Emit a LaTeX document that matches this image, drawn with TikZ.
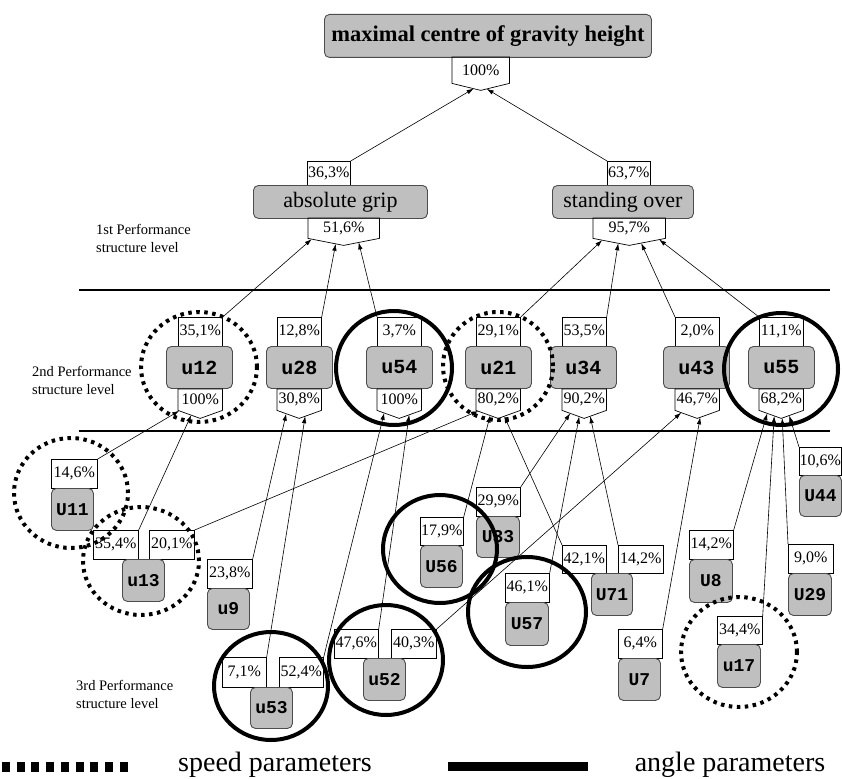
\documentclass[tikz,border=0pt]{standalone}
\usepackage{fontspec}
\setmainfont{Liberation Serif}
\newfontfamily\monofam{Liberation Mono}
\usetikzlibrary{arrows.meta,calc}
\pgfdeclarelayer{bg}
\pgfsetlayers{bg,main}
\tikzset{
 pct/.style={draw, line width=0.7pt, fill=white, inner sep=0pt, anchor=north west, font=\fontsize{16}{16}\selectfont},
 pctn/.style={draw=none, inner sep=0pt, anchor=north west, font=\fontsize{16}{16}\selectfont},
 ubox/.style={draw=black!70, fill=black!25, rounded corners=5pt, line width=0.9pt, inner sep=0pt, anchor=north west},
 utwo/.style={ubox, font=\monofam\bfseries\fontsize{20}{20}\selectfont},
 uthree/.style={ubox, font=\monofam\bfseries\fontsize{18}{18}\selectfont},
 conn/.style={line width=0.6pt, -{Latex[length=7pt,width=4.5pt]}},
 speedc/.style={line width=4pt, dash pattern=on 3.5pt off 4.5pt},
 anglec/.style={line width=4pt},
 sepline/.style={line width=1.5pt},
 lvl/.style={anchor=west, inner sep=0pt, font=\fontsize{14.5}{18}\selectfont, align=left}
}
\newcommand\mkbox[7]{\node[#6, minimum width={(#4-#2)*1pt}, minimum height={(#5-#3)*1pt}] (#1) at (#2,#3) {#7};}
\newcommand\mkpent[7]{\node[pctn, minimum width={(#4-#2)*1pt}, minimum height={(#5-#3)*1pt}] (#1) at (#2,#3) {#7};
 \draw[line width=0.7pt] (#1.north west) -- (#1.south west) -- ([yshift=-#6pt]#1.south) -- (#1.south east) -- (#1.north east) -- cycle;}
\begin{document}
\begin{tikzpicture}[x=1pt,y=-1pt]
\useasboundingbox (0,0) rectangle (842,778);
% level 0 and 1
\mkbox{top}{324}{14}{651}{57}{ubox, font=\bfseries\fontsize{22.5}{24}\selectfont}{maximal centre of gravity height}
\mkpent{p0}{452}{57}{509}{83}{7}{100\%}
\mkbox{l36}{307}{161}{350}{186}{pct}{36,3\%}
\mkbox{ag}{253}{185}{427}{218}{ubox, font=\fontsize{22}{24}\selectfont}{absolute grip}
\mkpent{p1}{308}{218}{379}{238}{7}{51,6\%}
\mkbox{l63}{607}{161}{650}{186}{pct}{63,7\%}
\mkbox{so}{552}{185}{693}{218}{ubox, font=\fontsize{22}{24}\selectfont}{standing over}
\mkpent{p2}{593}{218}{665}{238}{7}{95,7\%}
% separators
\draw[sepline] (79,290) -- (830,290);
\draw[sepline] (79,431) -- (830,431);
% level labels
\node[lvl] (t1) at (96,238) {1st Performance\\structure level};
\node[lvl] (t2) at (32,380) {2nd Performance\\structure level};
\node[lvl] (t3) at (76,694) {3rd Performance\\structure level};
% level 2
\mkbox{a12}{178}{317}{222}{346}{pct}{35,1\%}
\mkbox{u12}{166}{346}{232}{388}{utwo}{u12}
\mkpent{b12}{178}{389}{222}{410}{8}{100\%}
\mkbox{a28}{277}{317}{321}{346}{pct}{12,8\%}
\mkbox{u28}{266}{346}{332}{388}{utwo}{u28}
\mkpent{b28}{277}{389}{321}{410}{8}{30,8\%}
\mkbox{a54}{377}{317}{421}{346}{pct}{3,7\%}
\mkbox{u54}{366}{346}{432}{388}{utwo}{u54}
\mkpent{b54}{377}{389}{421}{410}{8}{100\%}
\mkbox{a21}{476}{317}{520}{346}{pct}{29,1\%}
\mkbox{u21}{465}{346}{531}{388}{utwo}{u21}
\mkpent{b21}{476}{389}{520}{410}{8}{80,2\%}
\mkbox{a34}{562}{317}{606}{346}{pct}{53,5\%}
\mkbox{u34}{550}{346}{616}{388}{utwo}{u34}
\mkpent{b34}{562}{389}{606}{410}{8}{90,2\%}
\mkbox{a43}{675}{317}{719}{346}{pct}{2,0\%}
\mkbox{u43}{663}{346}{729}{388}{utwo}{u43}
\mkpent{b43}{675}{389}{719}{410}{8}{46,7\%}
\mkbox{a55}{759}{317}{803}{346}{pct}{11,1\%}
\mkbox{u55}{748}{346}{814}{388}{utwo}{u55}
\mkpent{b55}{759}{389}{803}{410}{8}{68,2\%}
% level 3
\mkbox{l11}{51}{459}{97}{488}{pct}{14,6\%}
\mkbox{U11}{51}{488}{93}{530}{uthree}{U11}
\mkbox{l13a}{93}{530}{138}{559}{pct}{35,4\%}
\mkbox{l13b}{149}{530}{194}{559}{pct}{20,1\%}
\mkbox{u13}{122}{559}{164}{601}{uthree}{u13}
\mkbox{l9}{207}{559}{252}{588}{pct}{23,8\%}
\mkbox{u9}{207}{588}{249}{629}{uthree}{u9}
\mkbox{l53a}{222}{657}{266}{687}{pct}{7,1\%}
\mkbox{l53b}{279}{657}{323}{687}{pct}{52,4\%}
\mkbox{u53}{250}{687}{292}{728}{uthree}{u53}
\mkbox{l52a}{334}{629}{378}{658}{pct}{47,6\%}
\mkbox{l52b}{391}{629}{436}{658}{pct}{40,3\%}
\mkbox{u52}{363}{658}{405}{700}{uthree}{u52}
\mkbox{l56}{420}{517}{463}{545}{pct}{17,9\%}
\mkbox{U56}{420}{545}{462}{587}{uthree}{U56}
\mkbox{l33}{476}{487}{520}{516}{pct}{29,9\%}
\mkbox{U33}{476}{516}{519}{557}{uthree}{U33}
\mkbox{l57}{505}{573}{549}{602}{pct}{46,1\%}
\mkbox{U57}{505}{602}{548}{645}{uthree}{U57}
\mkbox{l71a}{562}{545}{606}{573}{pct}{42,1\%}
\mkbox{l71b}{618}{545}{663}{573}{pct}{14,2\%}
\mkbox{U71}{591}{573}{632}{615}{uthree}{U71}
\mkbox{l8}{689}{530}{733}{559}{pct}{14,2\%}
\mkbox{U8}{689}{559}{732}{602}{uthree}{U8}
\mkbox{l7}{618}{629}{662}{658}{pct}{6,4\%}
\mkbox{U7}{618}{658}{660}{700}{uthree}{U7}
\mkbox{l17}{717}{616}{762}{644}{pct}{34,4\%}
\mkbox{u17}{717}{644}{760}{687}{uthree}{u17}
\mkbox{l29}{788}{544}{833}{573}{pct}{9,0\%}
\mkbox{U29}{788}{573}{831}{615}{uthree}{U29}
\mkbox{l44}{799}{447}{841}{475}{pct}{10,6\%}
\mkbox{U44}{799}{475}{841}{516}{uthree}{U44}
% connectors
\begin{pgfonlayer}{bg}
\draw[conn] (l36.north east) -- ([xshift=-7pt,yshift=-5.2pt]p0.south);
\draw[conn] (l63.north west) -- ([xshift=6pt,yshift=-5.5pt]p0.south);
\draw[conn] (a12.north east) -- ([xshift=-32pt,yshift=-0.7pt]p1.south);
\draw[conn] (a28.north east) -- ([xshift=-8pt,yshift=-5.4pt]p1.south);
\draw[conn] (a54.north west) -- ([xshift=15pt,yshift=-4pt]p1.south);
\draw[conn] (a21.north east) -- ([xshift=-27pt,yshift=-1.75pt]p2.south);
\draw[conn] (a34.north east) -- ([xshift=-11pt,yshift=-4.9pt]p2.south);
\draw[conn] (a43.north west) -- ([xshift=12pt,yshift=-4.7pt]p2.south);
\draw[conn] (a55.north west) -- ([xshift=30pt,yshift=-1.2pt]p2.south);
\draw[conn] (l11.north east) -- ([xshift=-21pt,yshift=-0.4pt]b12.south);
\draw[conn] (l13a.north east) -- ([xshift=-9pt,yshift=-4.7pt]b12.south);
\draw[conn] (l9.north east) -- ([xshift=-13pt,yshift=-3.3pt]b28.south);
\draw[conn] (l53a.north east) -- ([xshift=6pt,yshift=-5.8pt]b28.south);
\draw[conn] (l53b.north east) -- ([xshift=-15pt,yshift=-2.5pt]b54.south);
\draw[conn] (l52a.north east) -- ([xshift=10pt,yshift=-4.4pt]b54.south);
\draw[conn] (l13b.north east) -- ([xshift=-20pt,yshift=-0.7pt]b21.south);
\draw[conn] (l56.north east) -- ([xshift=-8pt,yshift=-5.1pt]b21.south);
\draw[conn] (l71a.north west) -- ([xshift=6pt,yshift=-5.8pt]b21.south);
\draw[conn] (l33.north east) -- ([xshift=-14pt,yshift=-2.9pt]b34.south);
\draw[conn] (l57.north east) -- ([xshift=-5pt,yshift=-6.2pt]b34.south);
\draw[conn] (l71b.north west) -- ([xshift=6pt,yshift=-5.8pt]b34.south);
\draw[conn] (l52b.north east) -- ([xshift=-16pt,yshift=-2.2pt]b43.south);
\draw[conn] (l7.north east) -- ([xshift=3pt,yshift=-6.9pt]b43.south);
\draw[conn] (l8.north east) -- ([xshift=-14pt,yshift=-2.9pt]b55.south);
\draw[conn] (l17.north east) -- ([xshift=-7pt,yshift=-5.5pt]b55.south);
\draw[conn] (l29.north west) -- ([xshift=1pt,yshift=-7.6pt]b55.south);
\draw[conn] (l44.north west) -- ([xshift=8pt,yshift=-5.1pt]b55.south);
\end{pgfonlayer}
% circles: speed (dotted)
\draw[speedc] (199,367) ellipse [x radius=58pt, y radius=55pt];
\draw[speedc] (498,366) ellipse [x radius=55pt, y radius=54pt];
\draw[speedc] (71,493) ellipse [x radius=57pt, y radius=55pt];
\draw[speedc] (141,561) ellipse [x radius=58pt, y radius=54pt];
\draw[speedc] (739,652) ellipse [x radius=58pt, y radius=55pt];
% circles: angle (solid)
\draw[anglec] (394,368) ellipse [x radius=58pt, y radius=57pt];
\draw[anglec] (781,369) ellipse [x radius=57pt, y radius=56pt];
\draw[anglec] (440,549) ellipse [x radius=57pt, y radius=54pt];
\draw[anglec] (527,612) ellipse [x radius=59pt, y radius=55pt];
\draw[anglec] (386,660) ellipse [x radius=57pt, y radius=55pt];
\draw[anglec] (271,686) ellipse [x radius=57pt, y radius=54pt];
% legend
\coordinate (lsa) at (2,767);
\coordinate (lse) at (134,767);
\draw[line width=10pt, dash pattern=on 8pt off 6.7pt] (lsa) -- (lse);
\node[font=\fontsize{28}{30}\selectfont, inner sep=0pt] (lst) at (275,765) {speed parameters};
\coordinate (laa) at (448,766);
\coordinate (lae) at (588,766);
\draw[line width=9pt] (laa) -- (lae);
\node[font=\fontsize{28}{30}\selectfont, inner sep=0pt] (lat) at (730,765) {angle parameters};
\end{tikzpicture}
\end{document}
